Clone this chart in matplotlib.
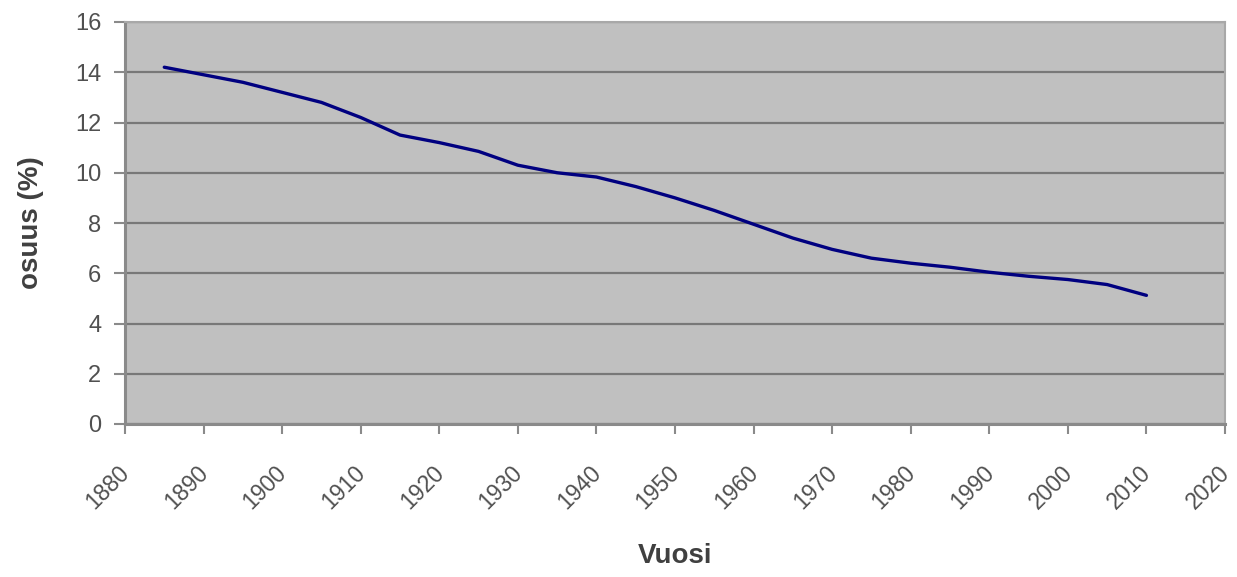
import matplotlib
matplotlib.use("Agg")
import matplotlib.pyplot as plt
from matplotlib.transforms import ScaledTranslation

years = [1885, 1890, 1895, 1900, 1905, 1910, 1915, 1920, 1925, 1930, 1935, 1940,
         1945, 1950, 1955, 1960, 1965, 1970, 1975, 1980, 1985, 1990, 1995, 2000,
         2005, 2010]
share = [14.2, 13.9, 13.6, 13.2, 12.8, 12.2, 11.5, 11.2, 10.85, 10.3, 10.0, 9.83,
         9.45, 9.0, 8.5, 7.95, 7.4, 6.95, 6.6, 6.4, 6.24, 6.04, 5.88, 5.75,
         5.55, 5.12]

xticks = list(range(1880, 2021, 10))
yticks = list(range(0, 17, 2))

plt.rcParams["font.family"] = ["Liberation Sans", "DejaVu Sans"]

fig = plt.figure(figsize=(12.37, 5.77), dpi=100)
ax = fig.add_axes([125/1237, 1 - 424/577, 1100/1237, 402/577])
ax.set_facecolor("#c0c0c0")

ax.plot(years, share, color="#000080", linewidth=2.4, solid_capstyle="round",
        solid_joinstyle="round", zorder=3)

ax.set_xlim(1880, 2020)
ax.set_ylim(0, 16)
ax.set_xticks(xticks)
ax.set_yticks(yticks)
ax.set_xticklabels([str(v) for v in xticks], rotation=45, ha="center",
                   fontsize=16.5, color="#505050")
ax.set_yticklabels([str(v) for v in yticks], fontsize=17, color="#505050")
ax.tick_params(axis="x", length=7, width=1.5, color="#8a8a8a", pad=20)
ax.tick_params(axis="y", length=8, width=1.5, color="#8a8a8a", pad=9)

shift = ScaledTranslation(-17/100, 0, fig.dpi_scale_trans)
for lbl in ax.get_xticklabels():
    lbl.set_transform(lbl.get_transform() + shift)

ax.yaxis.grid(True, color="#787878", linewidth=1.6)
ax.xaxis.grid(False)
ax.set_axisbelow(True)

for side in ["left", "bottom"]:
    ax.spines[side].set_color("#8a8a8a")
    ax.spines[side].set_linewidth(2.2)
for side in ["top", "right"]:
    ax.spines[side].set_color("#a8a8a8")
    ax.spines[side].set_linewidth(1.5)

ax.set_xlabel("Vuosi", fontsize=20, fontweight="bold", color="#404040")
ax.xaxis.set_label_coords(0.5, (424 - 543) / 402)
ax.set_ylabel("osuus (%)", fontsize=20, fontweight="bold", color="#404040")
ax.yaxis.set_label_coords((44 - 125) / 1100, 0.5)

fig.savefig("out.png", dpi=100, facecolor="white")
